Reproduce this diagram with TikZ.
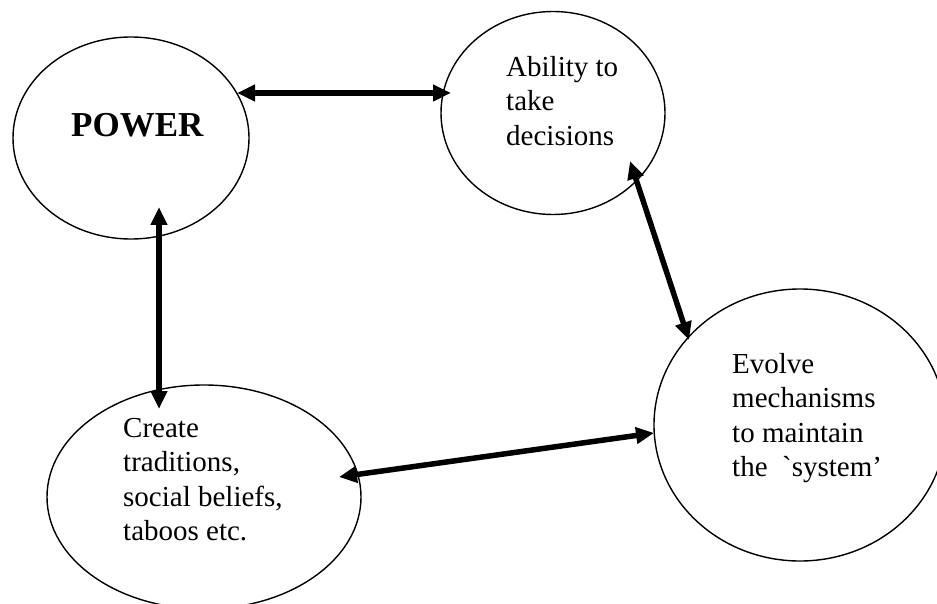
\documentclass[tikz,border=0pt]{standalone}
\usepackage{fontspec}
\setmainfont{Liberation Serif}
\newfontfamily\gravefont{Liberation Serif}[Ligatures=ResetAll]
\usetikzlibrary{shapes.geometric,arrows.meta}
\tikzset{
  bubble/.style={draw, ellipse, line width=1.4bp, inner sep=0pt},
  label/.style={anchor=north west, inner sep=0pt, align=left, font=\fontsize{29bp}{34.5bp}\selectfont},
  link/.style={line width=5.5bp, {Triangle[length=18bp,width=16bp]}-{Triangle[length=18bp,width=16bp]}}
}
\begin{document}
\begin{tikzpicture}[x=1bp,y=-1bp]
\useasboundingbox (0,0) rectangle (937,604);
\fill[white] (0,0) rectangle (937,604);
% ellipses
\node[bubble, minimum width=236bp, minimum height=202bp] (power) at (131,138) {};
\node[bubble, minimum width=224bp, minimum height=203bp] (ability) at (553,113) {};
\node[bubble, minimum width=314bp, minimum height=224bp] (create) at (204,497) {};
\node[bubble, minimum width=292bp, minimum height=272bp] (evolve) at (800,425) {};
% texts
\node[anchor=north west, inner sep=0pt, font=\fontsize{35bp}{40bp}\selectfont\bfseries] (powert) at (71,113) {POWER};
\node[label] (abilityt) at (506,56) {Ability to\\take\\decisions};
\node[label] (createt) at (123,418) {Create\\traditions,\\social beliefs,\\taboos etc.};
\node[label] (evolvet) at (732,353) {Evolve\\mechanisms\\to maintain\\the\ \ {\gravefont\symbol{96}}system’};
% connector end points
\coordinate (p1) at (237,93);
\coordinate (a1) at (451,93);
\coordinate (p2) at (159,207);
\coordinate (c2) at (159,409);
\coordinate (a3) at (630,161);
\coordinate (e3) at (689,340);
\coordinate (c4) at (339,477);
\coordinate (e4) at (654,433);
% connectors
\draw[link] (p1) -- (a1);
\draw[link] (p2) -- (c2);
\draw[link] (a3) -- (e3);
\draw[link] (c4) -- (e4);
\end{tikzpicture}
\end{document}
